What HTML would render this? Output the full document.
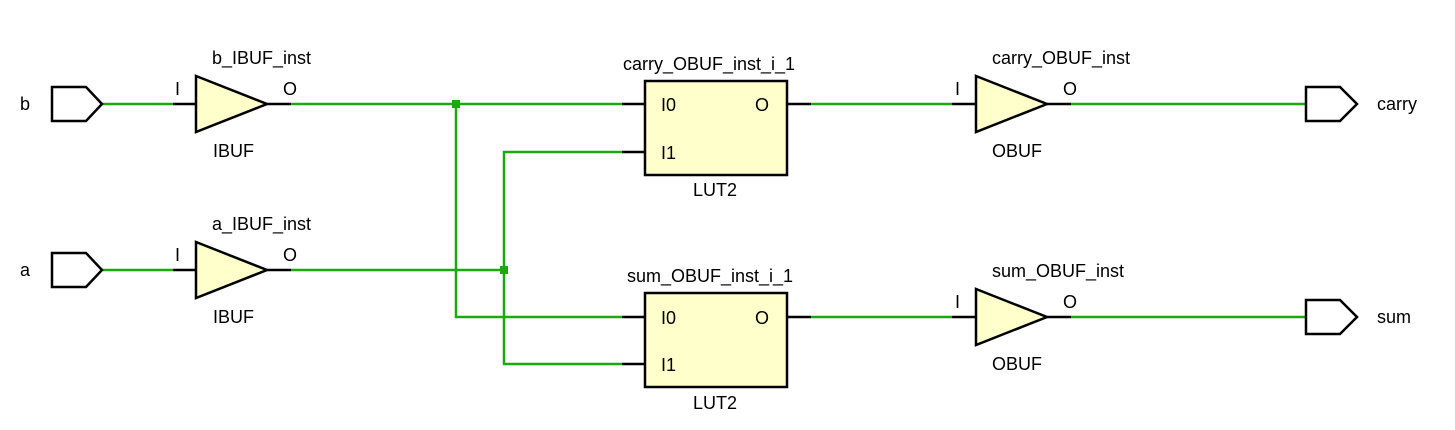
<!DOCTYPE html>
<html><head><meta charset="utf-8"><style>
html,body{margin:0;padding:0;background:#fff;}
svg{display:block;}
</style></head><body>
<svg width="1455" height="430" viewBox="0 0 1455 430" xmlns="http://www.w3.org/2000/svg">
<g fill="none" stroke="#1aaa10" stroke-width="2.5">
<line x1="102" y1="104" x2="173" y2="104"/>
<line x1="291" y1="104" x2="622" y2="104"/>
<line x1="102" y1="270" x2="173" y2="270"/>
<line x1="291" y1="270" x2="504" y2="270"/>
<polyline points="456,104 456,317 622,317"/>
<polyline points="622,152 504,152 504,364 622,364"/>
<line x1="811" y1="104" x2="952" y2="104"/>
<line x1="811" y1="317" x2="952" y2="317"/>
<line x1="1071" y1="104" x2="1306" y2="104"/>
<line x1="1071" y1="317" x2="1306" y2="317"/>
</g>
<rect x="452" y="100" width="8" height="8" fill="#1aaa10"/>
<rect x="500" y="266" width="8" height="8" fill="#1aaa10"/>
<g stroke="#000" stroke-width="2.5">
<line x1="173" y1="104" x2="195" y2="104"/><line x1="267" y1="104" x2="291" y2="104"/>
<line x1="173" y1="270" x2="195" y2="270"/><line x1="267" y1="270" x2="291" y2="270"/>
<line x1="622" y1="104" x2="645" y2="104"/><line x1="622" y1="152" x2="645" y2="152"/><line x1="787" y1="104" x2="811" y2="104"/>
<line x1="622" y1="317" x2="645" y2="317"/><line x1="622" y1="364" x2="645" y2="364"/><line x1="787" y1="317" x2="811" y2="317"/>
<line x1="952" y1="104" x2="975" y2="104"/><line x1="1047" y1="104" x2="1071" y2="104"/>
<line x1="952" y1="317" x2="975" y2="317"/><line x1="1047" y1="317" x2="1071" y2="317"/>
</g>
<g stroke="#000" stroke-width="2.5" fill="#fff">
<polygon points="52,87 86,87 102,104 86,121 52,121"/>
<polygon points="52,253 86,253 102,270 86,287 52,287"/>
<polygon points="1306,87 1340,87 1357,104 1340,121 1306,121"/>
<polygon points="1306,300 1340,300 1357,317 1340,334 1306,334"/>
</g>
<g stroke="#000" stroke-width="2.5" fill="#ffffcc">
<polygon points="196,76 267,104 196,132"/>
<polygon points="196,242 267,270 196,298"/>
<polygon points="976,76 1047,104 976,132"/>
<polygon points="976,289 1047,317 976,345"/>
<rect x="645" y="81" width="142" height="94"/>
<rect x="645" y="293" width="142" height="94"/>
</g>
<g font-family="Liberation Sans, DejaVu Sans, sans-serif" font-size="18" fill="#000" style="font-size:18px">
<text x="20" y="110">b</text>
<text x="20" y="276">a</text>
<text x="1377" y="110">carry</text>
<text x="1377" y="323">sum</text>
<text x="212" y="64">b_IBUF_inst</text>
<text x="212" y="230">a_IBUF_inst</text>
<text x="175" y="95">I</text><text x="283" y="95">O</text>
<text x="175" y="261">I</text><text x="283" y="261">O</text>
<text x="213" y="157">IBUF</text>
<text x="213" y="323">IBUF</text>
<text x="623" y="70">carry_OBUF_inst_i_1</text>
<text x="627" y="282">sum_OBUF_inst_i_1</text>
<text x="661" y="111">I0</text><text x="661" y="159">I1</text><text x="755" y="111">O</text>
<text x="661" y="324">I0</text><text x="661" y="371">I1</text><text x="755" y="324">O</text>
<text x="693" y="196">LUT2</text>
<text x="693" y="409">LUT2</text>
<text x="992" y="64">carry_OBUF_inst</text>
<text x="992" y="277">sum_OBUF_inst</text>
<text x="955" y="95">I</text><text x="1063" y="95">O</text>
<text x="955" y="308">I</text><text x="1063" y="308">O</text>
<text x="992" y="157">OBUF</text>
<text x="992" y="370">OBUF</text>
</g>
</svg>
</body></html>
